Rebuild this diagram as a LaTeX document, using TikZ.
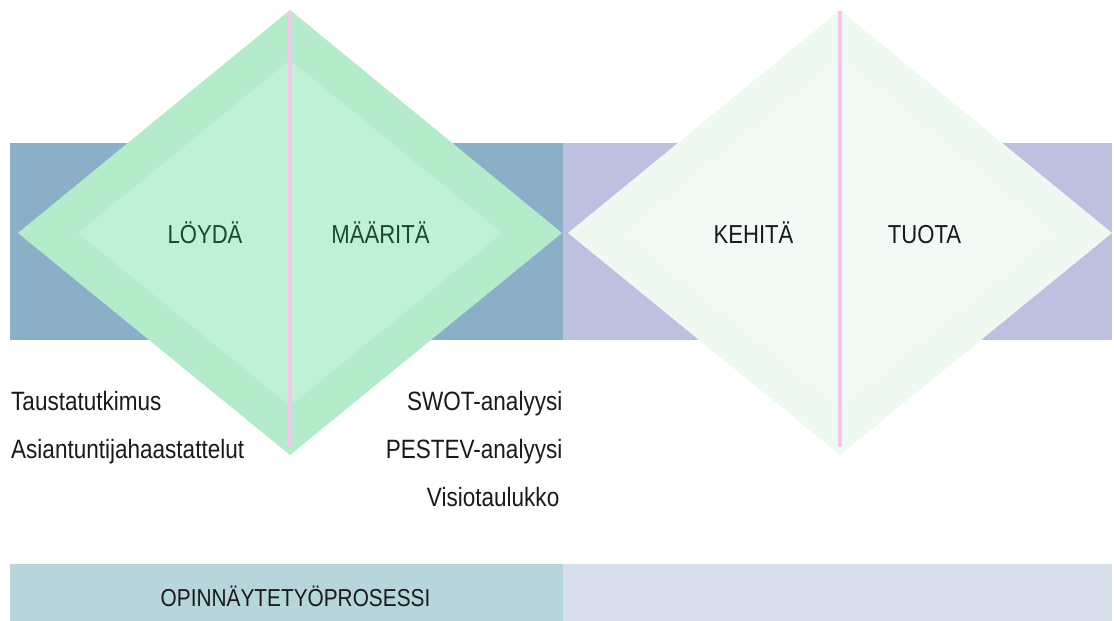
\documentclass[tikz,border=0pt]{standalone}
\usepackage{fontspec}
\setmainfont{Liberation Sans}[FakeStretch=0.85]
\usetikzlibrary{positioning}

\definecolor{bandblue}{HTML}{8CAFC8}
\definecolor{bandlav}{HTML}{BDC1DF}
\definecolor{barteal}{HTML}{B7D6DB}
\definecolor{barlav}{HTML}{D8DEEA}
\definecolor{greenout}{HTML}{B3EBCB}
\definecolor{greenin}{HTML}{C0F1D6}
\definecolor{paleout}{HTML}{EEF9F1}
\definecolor{palein}{HTML}{F2FAF5}
\definecolor{pinkline}{HTML}{F7C5EC}
\definecolor{darkgreen}{HTML}{1C4A2C}
\definecolor{nearblack}{HTML}{1A1A1A}

\begin{document}
\begin{tikzpicture}
	[x=1pt, y=-1pt,
	phase/.style={font=\fontsize{26}{28}\selectfont, text=#1, anchor=base, inner sep=0pt},
	method/.style={font=\fontsize{26.5}{28}\selectfont, text=nearblack, text height=19pt, text depth=6pt, inner sep=0pt},
	node distance=23pt]
	\useasboundingbox (0,0) rectangle (1114,621);
	% bands
	\fill[bandblue] (10,143) rectangle (563,340);
	\fill[bandlav] (563,143) rectangle (1112,340);
	\fill[barteal] (10,564) rectangle (563,621);
	\fill[barlav] (563,564) rectangle (1112,621);
	% diamonds
	\foreach \cx/\outer/\inner in {290/greenout/greenin, 840/paleout/palein}{
		\fill[\outer] (\cx-272,233) -- (\cx,10) -- (\cx+272,233) -- (\cx,455) -- cycle;
		\fill[\inner] (\cx-212,233) -- (\cx,60) -- (\cx+212,233) -- (\cx,406) -- cycle;
		\fill[pinkline] (\cx-2,11) rectangle (\cx+2,447);
	}
	\node[phase=darkgreen] (find) at (205,243) {LÖYDÄ};
	\node[phase=darkgreen] (define) at (380.5,243) {MÄÄRITÄ};
	\node[phase=nearblack] (develop) at (753.5,243) {KEHITÄ};
	\node[phase=nearblack] (produce) at (924.5,243) {TUOTA};
	% methods
	\node[method, anchor=base west] (background) at (11,410) {Taustatutkimus};
	\node[method, below=of background.south west, anchor=north west] (interviews) {Asiantuntijahaastattelut};
	\node[method, anchor=base east] (swot) at (562.5,410) {SWOT-analyysi};
	\node[method, below=of swot.south east, anchor=north east] (pestev) {PESTEV-analyysi};
	\node[method, below=of pestev.south east, anchor=north east, xshift=-3pt] (vision) {Visiotaulukko};
	\node[phase=nearblack, font=\fontsize{24.5}{26}\selectfont] (thesis) at (295.5,606) {OPINNÄYTETYÖPROSESSI};
\end{tikzpicture}
\end{document}
